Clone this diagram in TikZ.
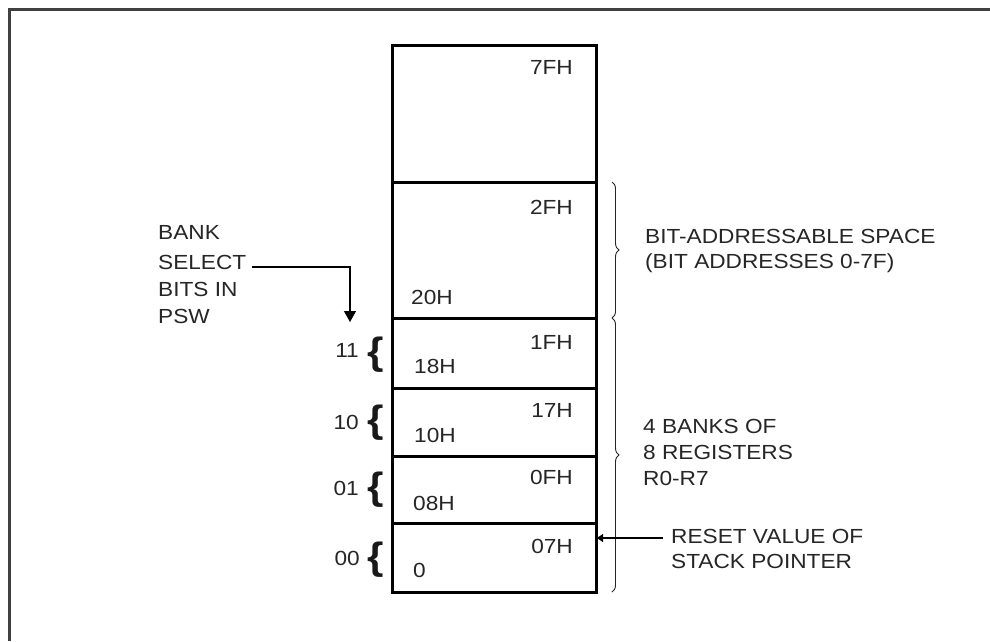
\documentclass[tikz,border=0pt]{standalone}
\usepackage{fontspec}
\setmainfont{Liberation Sans}[FakeStretch=1.11]
\usetikzlibrary{arrows.meta,decorations.pathreplacing}
\begin{document}
\begin{tikzpicture}[x=1pt,y=-1pt,
  lbl/.style={font=\fontsize{20.4}{20.4}\selectfont, inner sep=0pt, text=black!85},
  bbrace/.style={font=\fontsize{38}{38}\selectfont\bfseries, inner sep=0pt, text=black!90},
  boxline/.style={line width=3pt, black},
  frame/.style={line width=2.5pt, black!75},
  thinbrace/.style={decorate, decoration={brace, amplitude=7pt}, line width=0.9pt, black!85},
  conn/.style={line width=1.3pt, black}
]
\useasboundingbox (0,0) rectangle (990,641);
\fill[white] (0,0) rectangle (990,641);
% outer frame
\draw[frame] (990,9.5) -- (9.5,9.5) -- (9.5,641);

% memory box
\draw[boxline] (392,45) rectangle (596,592);
\foreach \yy in {182,318,388,456,523} \draw[boxline] (392,\yy) -- (596,\yy);

% address labels
\node[lbl, anchor=base east] (a7f) at (573,74) {7FH};
\node[lbl, anchor=base east] (a2f) at (573,214) {2FH};
\node[lbl, anchor=base west] (a20) at (411,304) {20H};
\node[lbl, anchor=base east] (a1f) at (573,349) {1FH};
\node[lbl, anchor=base west] (a18) at (414,373) {18H};
\node[lbl, anchor=base east] (a17) at (573,417) {17H};
\node[lbl, anchor=base west] (a10) at (414,442) {10H};
\node[lbl, anchor=base east] (a0f) at (573,484) {0FH};
\node[lbl, anchor=base west] (a08) at (413,510) {08H};
\node[lbl, anchor=base east] (a07) at (573,553) {07H};
\node[lbl, anchor=base west] (a00) at (413,577) {0};

% bank numbers and braces
\node[lbl, anchor=base east] (b11) at (359,357) {11};
\node[lbl, anchor=base east] (b10) at (359,429) {10};
\node[lbl, anchor=base east] (b01) at (359,495) {01};
\node[lbl, anchor=base east] (b00) at (360,565) {00};
\node[bbrace] (br11) at (376,355) {\{};
\node[bbrace] (br10) at (376,423) {\{};
\node[bbrace] (br01) at (376,490) {\{};
\node[bbrace] (br00) at (376,560) {\{};

% bank select text
\node[lbl, anchor=base west] (bank) at (158,239) {BANK};
\node[lbl, anchor=base west] (sel) at (158,269) {SELECT};
\node[lbl, anchor=base west] (bits) at (158,296) {BITS IN};
\node[lbl, anchor=base west] (psw) at (158,323) {PSW};
\coordinate (selstart) at (252,267);
\coordinate (selturn) at (350,267);
\coordinate (selend) at (350,322);
\draw[conn, -{Triangle[length=11pt,width=12pt]}] (selstart) -- (selturn) -- (selend);

% right braces
\coordinate (ub1) at (612,182);
\coordinate (ub2) at (612,318);
\coordinate (lb1) at (612,318);
\coordinate (lb2) at (612,592);
\draw[thinbrace] (ub1) -- (ub2);
\draw[thinbrace] (lb1) -- (lb2);

% right texts
\node[lbl, anchor=base west] (bas1) at (645,243) {BIT-ADDRESSABLE SPACE};
\node[lbl, anchor=base west] (bas2) at (645,268) {(BIT ADDRESSES 0-7F)};
\node[lbl, anchor=base west] (reg1) at (643,433) {4 BANKS OF};
\node[lbl, anchor=base west] (reg2) at (643,459) {8 REGISTERS};
\node[lbl, anchor=base west] (reg3) at (643,485) {R0-R7};
\node[lbl, anchor=base west] (rst1) at (671,543) {RESET VALUE OF};
\node[lbl, anchor=base west] (rst2) at (671,568) {STACK POINTER};
\coordinate (rststart) at (663,538);
\coordinate (rstend) at (596,538);
\draw[conn, -{Latex[length=7pt,width=9pt]}] (rststart) -- (rstend);
\end{tikzpicture}
\end{document}
